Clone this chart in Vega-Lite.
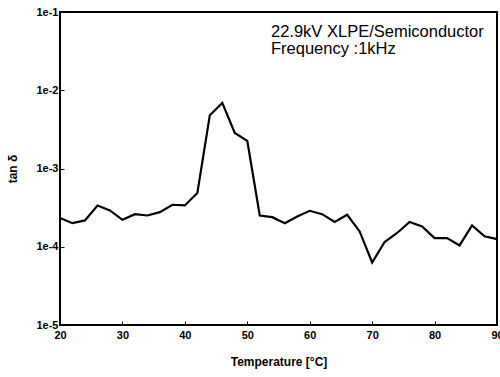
{
  "$schema": "https://vega.github.io/schema/vega-lite/v6.json",
  "width": 437,
  "height": 313,
  "autosize": "none",
  "padding": {"left": 60, "top": 12, "right": 3, "bottom": 52},
  "background": "white",
  "config": {
    "font": "Liberation Sans",
    "view": {"stroke": "black", "strokeWidth": 2},
    "axis": {"grid": false, "domain": false, "tickColor": "black", "labelColor": "black", "titleColor": "black", "labelFlush": false, "labelOverlap": false}
  },
  "datasets": {
    "series": [
      {"T": 20, "tan": 2.33e-4}, {"T": 22, "tan": 2.0e-4}, {"T": 24, "tan": 2.17e-4},
      {"T": 26, "tan": 3.37e-4}, {"T": 28, "tan": 2.91e-4}, {"T": 30, "tan": 2.21e-4},
      {"T": 32, "tan": 2.61e-4}, {"T": 34, "tan": 2.51e-4}, {"T": 36, "tan": 2.77e-4},
      {"T": 38, "tan": 3.44e-4}, {"T": 40, "tan": 3.37e-4}, {"T": 42, "tan": 4.85e-4},
      {"T": 44, "tan": 4.8e-3}, {"T": 46, "tan": 6.9e-3}, {"T": 48, "tan": 2.85e-3},
      {"T": 50, "tan": 2.25e-3}, {"T": 52, "tan": 2.51e-4}, {"T": 54, "tan": 2.39e-4},
      {"T": 56, "tan": 2.0e-4}, {"T": 58, "tan": 2.44e-4}, {"T": 60, "tan": 2.88e-4},
      {"T": 62, "tan": 2.61e-4}, {"T": 64, "tan": 2.07e-4}, {"T": 66, "tan": 2.56e-4},
      {"T": 68, "tan": 1.57e-4}, {"T": 70, "tan": 6.3e-5}, {"T": 72, "tan": 1.15e-4},
      {"T": 74, "tan": 1.5e-4}, {"T": 76, "tan": 2.07e-4}, {"T": 78, "tan": 1.82e-4},
      {"T": 80, "tan": 1.29e-4}, {"T": 82, "tan": 1.29e-4}, {"T": 84, "tan": 1.04e-4},
      {"T": 86, "tan": 1.87e-4}, {"T": 88, "tan": 1.36e-4}, {"T": 90, "tan": 1.25e-4}
    ],
    "notes": [
      {"T": 53.8, "tan": 0.0557, "label": "22.9kV XLPE/Semiconductor"},
      {"T": 53.8, "tan": 0.0335, "label": "Frequency :1kHz"}
    ]
  },
  "layer": [
    {
      "data": {"name": "series"},
      "mark": {"type": "line", "color": "black", "strokeWidth": 2.2, "strokeJoin": "miter"},
      "encoding": {
        "x": {
          "field": "T", "type": "quantitative",
          "scale": {"domain": [20, 90], "nice": false, "zero": false},
          "axis": {
            "title": "Temperature [°C]", "values": [20, 30, 40, 50, 60, 70, 80, 90],
            "labelFontSize": 11, "labelFontWeight": "bold", "labelPadding": 8,
            "tickSize": -4, "titleFontSize": 12, "titleFontWeight": "bold", "titlePadding": 16
          }
        },
        "y": {
          "field": "tan", "type": "quantitative",
          "scale": {"type": "log", "domain": [1e-5, 1e-1], "nice": false},
          "axis": {
            "title": "tan δ", "values": [1e-5, 1e-4, 1e-3, 1e-2, 1e-1],
            "labelExpr": "datum.value >= 0.09 ? '1e-1' : datum.value >= 0.009 ? '1e-2' : datum.value >= 0.0009 ? '1e-3' : datum.value >= 0.00009 ? '1e-4' : '1e-5'",
            "labelFontSize": 11, "labelFontWeight": "bold", "labelPadding": 6,
            "tickSize": -4, "titleFontSize": 12, "titleFontWeight": "bold", "titlePadding": 16
          }
        }
      }
    },
    {
      "data": {"name": "notes"},
      "mark": {"type": "text", "align": "left", "baseline": "middle", "fontSize": 16.5, "color": "black"},
      "encoding": {
        "x": {"field": "T", "type": "quantitative"},
        "y": {"field": "tan", "type": "quantitative"},
        "text": {"field": "label"}
      }
    }
  ]
}
